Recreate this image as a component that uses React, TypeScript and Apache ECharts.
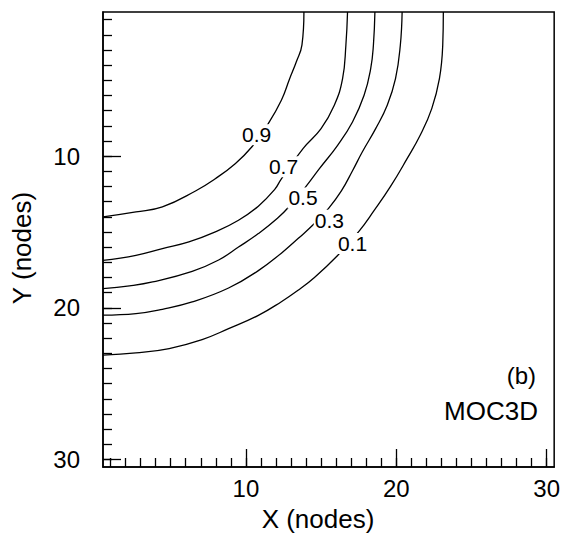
import React, { useEffect, useRef } from "react";
import * as echarts from "echarts";

// Contour lines: [x (nodes), y (nodes)]
const contour09 = [[13.86,0.5],[13.73,2.67],[13.35,3.8],[12.91,4.9],[12.36,6.32],[11.49,7.86],[10.39,9.4],[9.29,10.5],[7.97,11.49],[6.65,12.3],[4.45,13.35],[2.69,13.68],[0.5,14.01]];
const contour07 = [[16.76,0.5],[16.65,2.69],[16.43,4.9],[15.88,6.65],[15.0,8.19],[13.8,9.51],[12.34,11.53],[11.92,12.2],[10.83,13.3],[9.51,14.23],[7.97,15.0],[6.21,15.66],[4.45,16.1],[2.69,16.54],[0.5,16.87]];
const contour05 = [[18.58,0.5],[18.48,2.69],[18.3,4.24],[17.86,5.99],[17.09,7.75],[16.1,9.29],[14.89,10.83],[14.0,12.0],[13.0,13.2],[12.1,14.1],[10.83,15.11],[9.51,16.0],[8.19,16.85],[6.43,17.6],[3.8,18.3],[2.26,18.56],[0.5,18.74]];
const contour03 = [[20.39,0.5],[20.27,2.69],[19.95,4.9],[19.4,6.65],[18.63,8.19],[17.74,9.73],[17.1,10.95],[16.35,12.3],[15.5,13.45],[14.56,14.45],[13.47,15.44],[12.36,16.4],[10.83,17.55],[8.85,18.7],[6.43,19.62],[4.45,20.1],[2.69,20.39],[0.5,20.49]];
const contour01 = [[23.13,0.5],[23.09,2.69],[22.87,4.9],[22.36,6.87],[21.59,8.63],[20.72,10.17],[19.62,12.0],[18.52,13.6],[17.53,14.95],[16.1,16.55],[14.56,18.0],[13.47,18.85],[12.36,19.6],[10.83,20.5],[8.85,21.38],[7.09,22.1],[4.9,22.69],[2.69,22.98],[0.5,23.13]];

const contourLevels = ["0.9", "0.7", "0.5", "0.3", "0.1"];
const contourLabelPos = [[10.72,8.59],[12.5,10.7],[13.8,12.76],[15.55,14.23],[17.09,15.77]];

const minorTicks = [1,2,3,4,5,6,7,8,9,10,11,12,13,14,15,16,17,18,19,20,21,22,23,24,25,26,27,28,29,30];
const majorTicks = [10, 20, 30];

const FONT = '"Liberation Sans", Arial, Helvetica, sans-serif';

export default function App() {
  const ref = useRef<HTMLDivElement>(null);
  useEffect(() => {
    if (!ref.current) return;
    const chart = echarts.init(ref.current, undefined, { renderer: "svg" });
    const axisBase = (pos: string, inverse: boolean) => ({
      type: "value",
      min: 0.5,
      max: 30.5,
      position: pos,
      offset: 0,
      inverse,
      splitLine: { show: false },
    });
    const contours = [contour09, contour07, contour05, contour03, contour01];
    chart.setOption({
      animation: false,
      backgroundColor: "#fff",
      grid: {
        left: 103, top: 12, width: 455, height: 455,
        show: true, borderColor: "#000", borderWidth: 1.5, backgroundColor: "transparent",
      },
      xAxis: [
        {
          ...axisBase("bottom", false),
          axisLine: { show: true, lineStyle: { color: "#000", width: 1.5 } },
          axisTick: { show: true, inside: true, length: 9, customValues: minorTicks, lineStyle: { color: "#000", width: 1.3 } },
          axisLabel: { show: false },
        },
        {
          ...axisBase("bottom", false),
          axisLine: { show: false },
          axisTick: { show: true, inside: true, length: 18, customValues: majorTicks, lineStyle: { color: "#000", width: 1.3 } },
          axisLabel: { show: true, customValues: majorTicks, fontSize: 24, fontFamily: FONT, color: "#000", margin: 9 },
        },
      ],
      yAxis: [
        {
          ...axisBase("left", true),
          axisLine: { show: true, lineStyle: { color: "#000", width: 1.5 } },
          axisTick: { show: true, inside: true, length: 9, customValues: minorTicks, lineStyle: { color: "#000", width: 1.3 } },
          axisLabel: { show: false },
        },
        {
          ...axisBase("left", true),
          axisLine: { show: false },
          axisTick: { show: true, inside: true, length: 18, customValues: majorTicks, lineStyle: { color: "#000", width: 1.3 } },
          axisLabel: { show: true, customValues: majorTicks, fontSize: 24, fontFamily: FONT, color: "#000", margin: 23, padding: [0, 0, 8, 0] },
        },
      ],
      series: [
        ...contours.map((c, i) => ({
          type: "line",
          name: contourLevels[i],
          xAxisIndex: 0,
          yAxisIndex: 0,
          data: c,
          smooth: 0.45,
          showSymbol: false,
          symbol: "none",
          lineStyle: { color: "#000", width: 1.3 },
          z: 2,
        })),
        {
          type: "scatter",
          xAxisIndex: 0,
          yAxisIndex: 0,
          symbolSize: 0,
          z: 5,
          itemStyle: { opacity: 1, color: "#000" },
          data: contourLabelPos.map((p, i) => ({ value: p, name: contourLevels[i] })),
          label: {
            show: true,
            position: "inside",
            formatter: (p: any) => p.name,
            fontSize: 21,
            fontFamily: FONT,
            color: "#000",
            opacity: 1,
            backgroundColor: "#fff",
            padding: [0, 1],
          },
        },
      ],
      graphic: [
        {
          type: "text", x: 318, y: 519,
          style: { text: "X (nodes)", fontSize: 26, fontFamily: FONT, fill: "#000", align: "center", verticalAlign: "middle", textAlign: "center", textVerticalAlign: "middle" },
        },
        {
          type: "text", x: 22, y: 248, rotation: Math.PI / 2,
          style: { text: "Y (nodes)", fontSize: 26, fontFamily: FONT, fill: "#000", align: "center", verticalAlign: "middle", textAlign: "center", textVerticalAlign: "middle" },
        },
        {
          type: "text", x: 536, y: 375,
          style: { text: "(b)", fontSize: 24, fontFamily: FONT, fill: "#000", align: "right", verticalAlign: "middle", textAlign: "right", textVerticalAlign: "middle" },
        },
        {
          type: "text", x: 538, y: 411,
          style: { text: "MOC3D", fontSize: 26, fontFamily: FONT, fill: "#000", align: "right", verticalAlign: "middle", textAlign: "right", textVerticalAlign: "middle" },
        },
      ],
    });
    return () => chart.dispose();
  }, []);
  return <div ref={ref} style={{ position: "fixed", left: 0, top: 0, width: 563, height: 536 }} />;
}
